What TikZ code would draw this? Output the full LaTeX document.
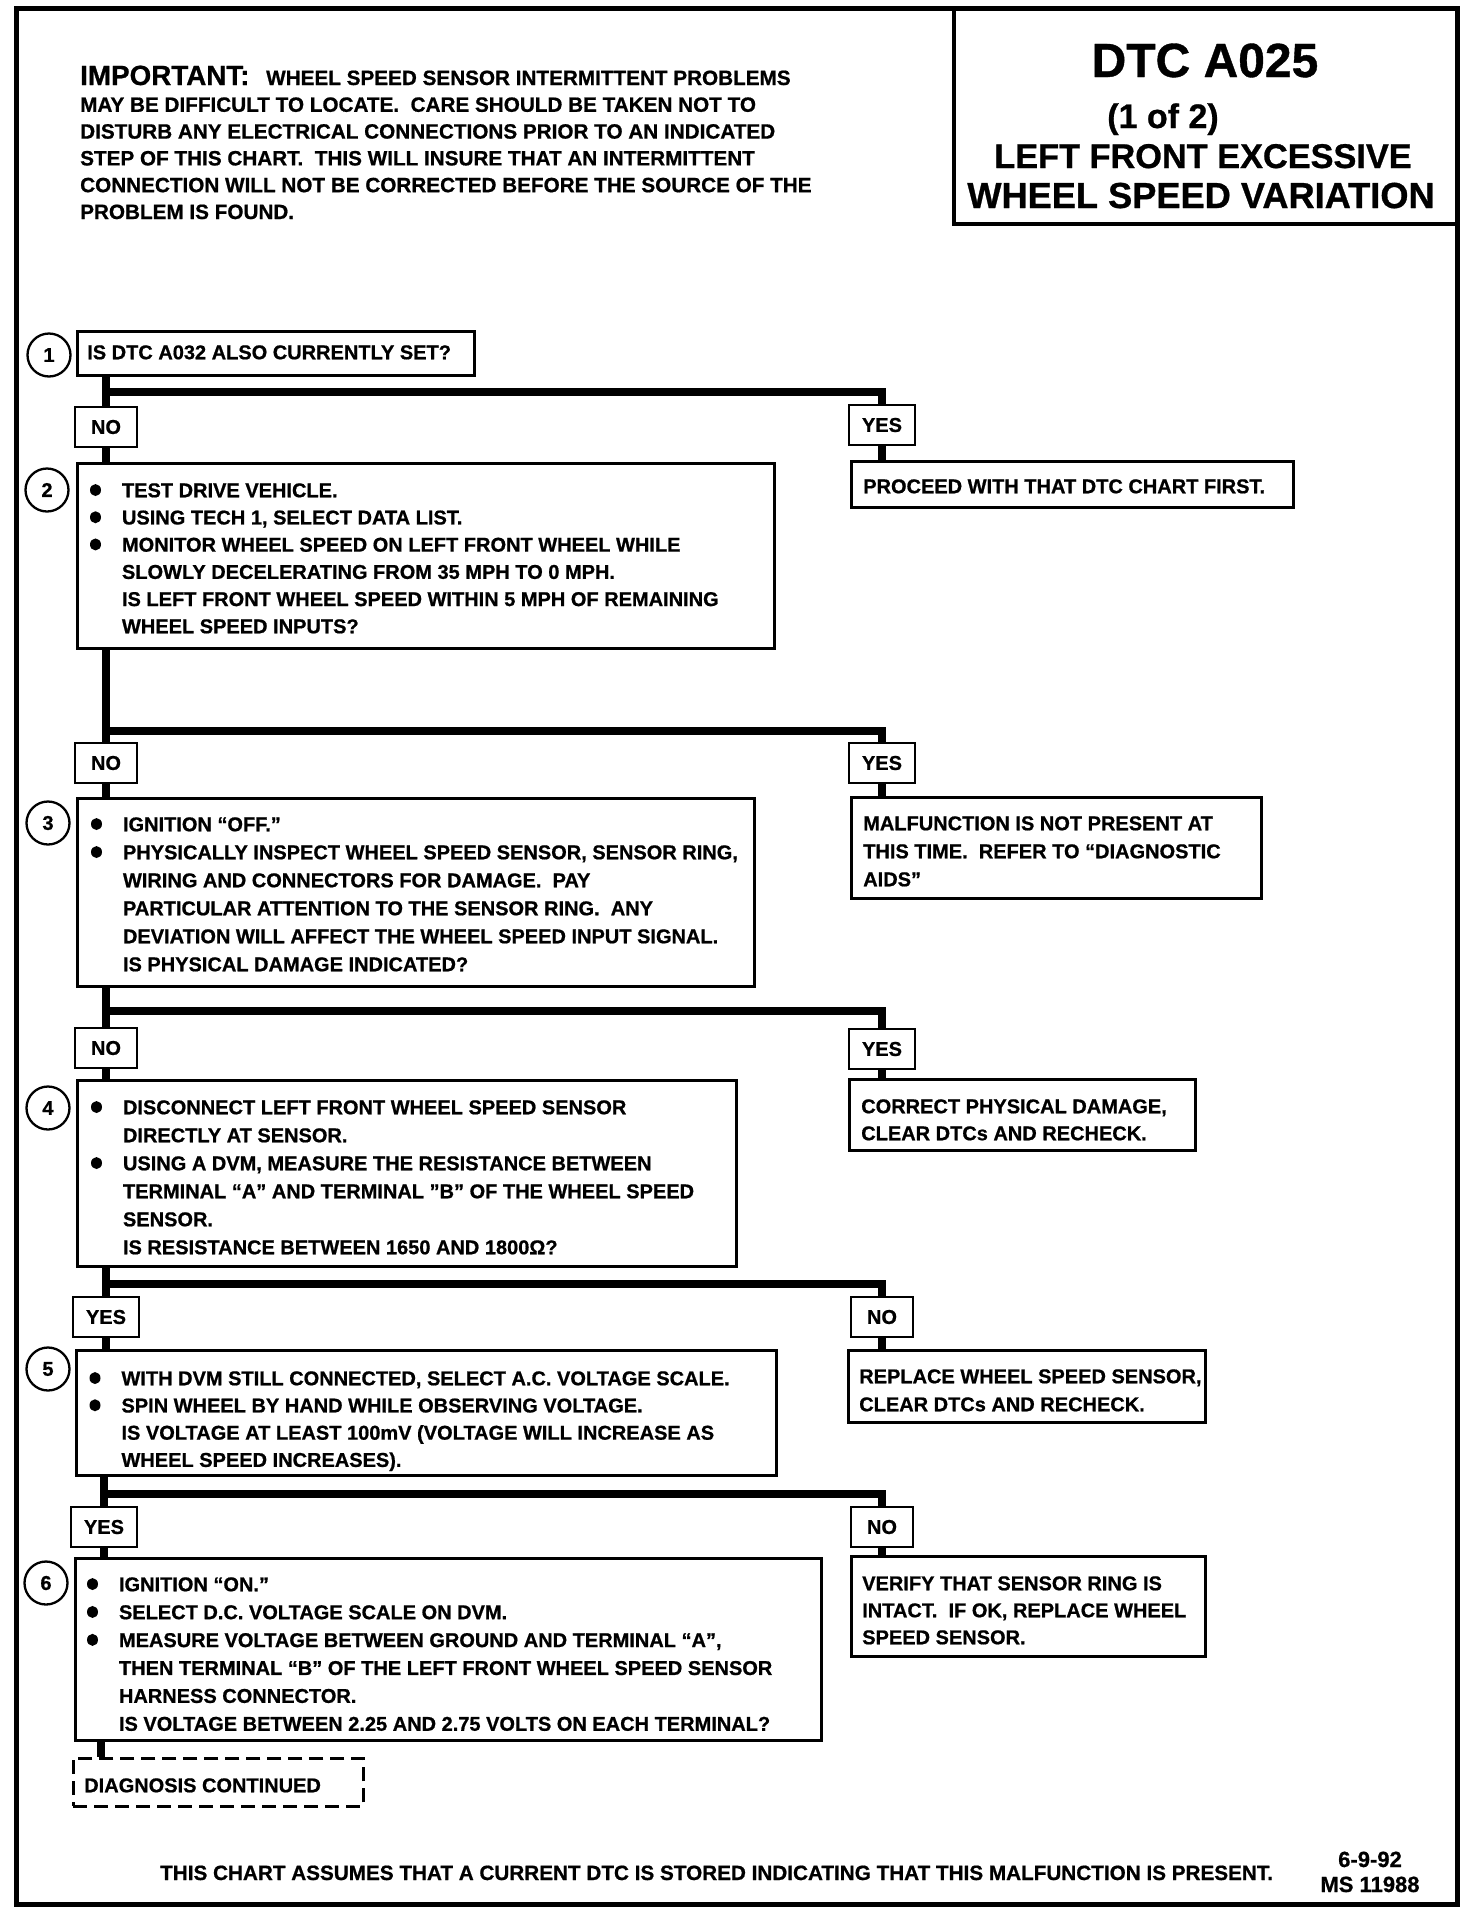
\documentclass[tikz,border=0pt]{standalone}
\usepackage{fontspec}
\setmainfont{Liberation Sans}[BoldFeatures={FakeBold=0.8}]
\usetikzlibrary{calc}

\newcommand\bt[6]{\parbox[t][#1pt][t]{#2pt}{\leftskip=#3pt\rightskip=0pt plus 1fil\parindent=0pt\baselineskip=#4pt\rule{0pt}{#5pt}#6}}
\newcommand\bul{\makebox[32pt][l]{\tikz[baseline=0pt, x=1pt, y=1pt]\fill (5.5,7.2) ellipse[x radius=5.5pt, y radius=6pt];}}
\newcommand\ind{\hspace*{32pt}}

\tikzset{
  basefont/.style={font=\bfseries\fontsize{20}{27.5}\selectfont},
  stepbox/.style={basefont, draw, line width=2.5pt, anchor=north west, inner sep=0pt},
  resbox/.style={stepbox},
  lab/.style={basefont, draw, line width=2.5pt, minimum height=40pt, minimum width=62pt, inner xsep=13pt, inner ysep=0pt},
  num/.style={basefont, draw, circle, line width=2.3pt, minimum size=43pt, inner sep=0pt},
  conn/.style={line width=8pt},
  dashbox/.style={stepbox, dash pattern=on 14pt off 7pt},
}

\begin{document}
\begin{tikzpicture}[x=1pt, y=-1pt]
\useasboundingbox (0,0) rectangle (1472,1914);

% frame and title
\draw[line width=5pt] (16,8) rectangle (1457,1904);
\node[draw, line width=4.5pt, outer sep=0pt, anchor=north west, minimum width=503pt, minimum height=216pt, inner sep=0pt] (title) at (954,8) {};
\node[anchor=base, font=\bfseries\fontsize{48}{48}\selectfont] (t1) at (1205,77) {DTC A025};
\node[anchor=base, font=\bfseries\fontsize{34}{34}\selectfont] (t2) at (1163,128) {(1 of 2)};
\node[anchor=base, font=\bfseries\fontsize{34.3}{35}\selectfont] (t3) at (1203,168) {LEFT FRONT EXCESSIVE};
\node[anchor=base, font=\bfseries\fontsize{36.2}{37}\selectfont] (t4) at (1201,208) {WHEEL SPEED VARIATION};

% important note
\node[anchor=base west, inner sep=0pt, font=\bfseries\fontsize{20.7}{26.8}\selectfont] (imp) at (80,85) {\parbox[t]{820pt}{\parindent=0pt\baselineskip=26.8pt
\makebox[186pt][l]{\fontsize{27.8}{27.8}\selectfont IMPORTANT:}WHEEL SPEED SENSOR INTERMITTENT PROBLEMS\\
MAY BE DIFFICULT TO LOCATE.\ \ CARE SHOULD BE TAKEN NOT TO\\
DISTURB ANY ELECTRICAL CONNECTIONS PRIOR TO AN INDICATED\\
STEP OF THIS CHART.\ \ THIS WILL INSURE THAT AN INTERMITTENT\\
CONNECTION WILL NOT BE CORRECTED BEFORE THE SOURCE OF THE\\
PROBLEM IS FOUND.}};

% step boxes
\node[stepbox] (b1) at (76,330) {\bt{44}{397}{10}{27.5}{28}{IS DTC A032 ALSO CURRENTLY SET?}};
\node[stepbox] (b2) at (76,462) {\bt{185}{697}{12.75}{27.2}{34}{\bul TEST DRIVE VEHICLE.\\
\bul USING TECH 1, SELECT DATA LIST.\\
\bul MONITOR WHEEL SPEED ON LEFT FRONT WHEEL WHILE\\
\ind SLOWLY DECELERATING FROM 35 MPH TO 0 MPH.\\
\ind IS LEFT FRONT WHEEL SPEED WITHIN 5 MPH OF REMAINING\\
\ind WHEEL SPEED INPUTS?}};
\node[stepbox] (b3) at (76,797) {\bt{188}{677}{13.75}{28}{33}{\bul IGNITION “OFF.”\\
\bul PHYSICALLY INSPECT WHEEL SPEED SENSOR, SENSOR RING,\\
\ind WIRING AND CONNECTORS FOR DAMAGE.\ \ PAY\\
\ind PARTICULAR ATTENTION TO THE SENSOR RING.\ \ ANY\\
\ind DEVIATION WILL AFFECT THE WHEEL SPEED INPUT SIGNAL.\\
\ind IS PHYSICAL DAMAGE INDICATED?}};
\node[stepbox] (b4) at (76,1079) {\bt{186}{659}{13.75}{28}{34}{\bul DISCONNECT LEFT FRONT WHEEL SPEED SENSOR\\
\ind DIRECTLY AT SENSOR.\\
\bul USING A DVM, MEASURE THE RESISTANCE BETWEEN\\
\ind TERMINAL “A” AND TERMINAL "B" OF THE WHEEL SPEED\\
\ind SENSOR.\\
\ind IS RESISTANCE BETWEEN 1650 AND 1800Ω?}};
\node[stepbox] (b5) at (75,1349) {\bt{125}{700}{13.25}{27.2}{35}{\bul WITH DVM STILL CONNECTED, SELECT A.C. VOLTAGE SCALE.\\
\bul SPIN WHEEL BY HAND WHILE OBSERVING VOLTAGE.\\
\ind IS VOLTAGE AT LEAST 100mV (VOLTAGE WILL INCREASE AS\\
\ind WHEEL SPEED INCREASES).}};
\node[stepbox] (b6) at (74,1557) {\bt{182}{746}{11.75}{27.9}{33}{\bul IGNITION “ON.”\\
\bul SELECT D.C. VOLTAGE SCALE ON DVM.\\
\bul MEASURE VOLTAGE BETWEEN GROUND AND TERMINAL “A”,\\
\ind THEN TERMINAL “B” OF THE LEFT FRONT WHEEL SPEED SENSOR\\
\ind HARNESS CONNECTOR.\\
\ind IS VOLTAGE BETWEEN 2.25 AND 2.75 VOLTS ON EACH TERMINAL?}};
\node[dashbox] (d) at (72,1757) {\bt{48}{290}{11}{27}{34}{DIAGNOSIS CONTINUED}};

% result boxes
\node[resbox] (r1) at (850,460) {\bt{46}{442}{12}{27.5}{32}{PROCEED WITH THAT DTC CHART FIRST.}};
\node[resbox] (r2) at (850,796) {\bt{101}{410}{12}{28}{33}{MALFUNCTION IS NOT PRESENT AT\\
THIS TIME.\ \ REFER TO “DIAGNOSTIC\\
AIDS”}};
\node[resbox] (r3) at (848,1078) {\bt{71}{346}{12}{27}{34}{CORRECT PHYSICAL DAMAGE,\\
CLEAR DTCs AND RECHECK.}};
\node[resbox] (r4) at (847,1349) {\bt{72}{357}{11}{28}{33}{REPLACE WHEEL SPEED SENSOR,\\
CLEAR DTCs AND RECHECK.}};
\node[resbox] (r5) at (850,1555) {\bt{100}{354}{11}{27}{34}{VERIFY THAT SENSOR RING IS\\
INTACT.\ \ IF OK, REPLACE WHEEL\\
SPEED SENSOR.}};

% step numbers
\node[num] (c1) at (49,355) {1};
\node[num] (c2) at (47,490) {2};
\node[num] (c3) at (48,823) {3};
\node[num] (c4) at (48,1108) {4};
\node[num] (c5) at (48,1369) {5};
\node[num] (c6) at (46,1583) {6};

% answer labels
\node[lab] (n1) at (106,427) {NO};
\node[lab] (y1) at (882,425) {YES};
\node[lab] (n2) at (106,763) {NO};
\node[lab] (y2) at (882,763) {YES};
\node[lab] (n3) at (106,1048) {NO};
\node[lab] (y3) at (882,1049) {YES};
\node[lab] (y4) at (106,1317) {YES};
\node[lab] (n4) at (882,1317) {NO};
\node[lab] (y5) at (104,1527) {YES};
\node[lab] (n5) at (882,1527) {NO};

% junctions
\coordinate (j1) at (106,392);
\coordinate (j2) at (106,731);
\coordinate (j3) at (106,1011);
\coordinate (j4) at (106,1284);
\coordinate (j5) at (104,1494);
\coordinate (k6) at (101,1750);

% connectors
\draw[conn] (b1.south -| j1) -- (j1) -| (y1.north);
\draw[conn] (j1) -- (n1.north);
\draw[conn] (n1.south) -- (n1.south |- b2.north);
\draw[conn] (y1.south) -- (y1.south |- r1.north);

\draw[conn] (b2.south -| j2) -- (j2) -| (y2.north);
\draw[conn] (j2) -- (n2.north);
\draw[conn] (n2.south) -- (n2.south |- b3.north);
\draw[conn] (y2.south) -- (y2.south |- r2.north);

\draw[conn] (b3.south -| j3) -- (j3) -| (y3.north);
\draw[conn] (j3) -- (n3.north);
\draw[conn] (n3.south) -- (n3.south |- b4.north);
\draw[conn] (y3.south) -- (y3.south |- r3.north);

\draw[conn] (b4.south -| j4) -- (j4) -| (n4.north);
\draw[conn] (j4) -- (y4.north);
\draw[conn] (y4.south) -- (y4.south |- b5.north);
\draw[conn] (n4.south) -- (n4.south |- r4.north);

\draw[conn] (b5.south -| j5) -- (j5) -| (n5.north);
\draw[conn] (j5) -- (y5.north);
\draw[conn] (y5.south) -- (y5.south |- b6.north);
\draw[conn] (n5.south) -- (n5.south |- r5.north);

\draw[conn] (b6.south -| k6) -- (d.north -| k6);

% footer
\node[anchor=base west, inner sep=0pt, font=\bfseries\fontsize{20.7}{24}\selectfont] (foot) at (160,1880) {THIS CHART ASSUMES THAT A CURRENT DTC IS STORED INDICATING THAT THIS MALFUNCTION IS PRESENT.};
\node[anchor=base, inner sep=0pt, font=\bfseries\fontsize{22}{24}\selectfont] (date) at (1370,1867) {6-9-92};
\node[anchor=base, inner sep=0pt, font=\bfseries\fontsize{22}{24}\selectfont] (ms) at (1370,1892) {MS 11988};
\end{tikzpicture}
\end{document}
